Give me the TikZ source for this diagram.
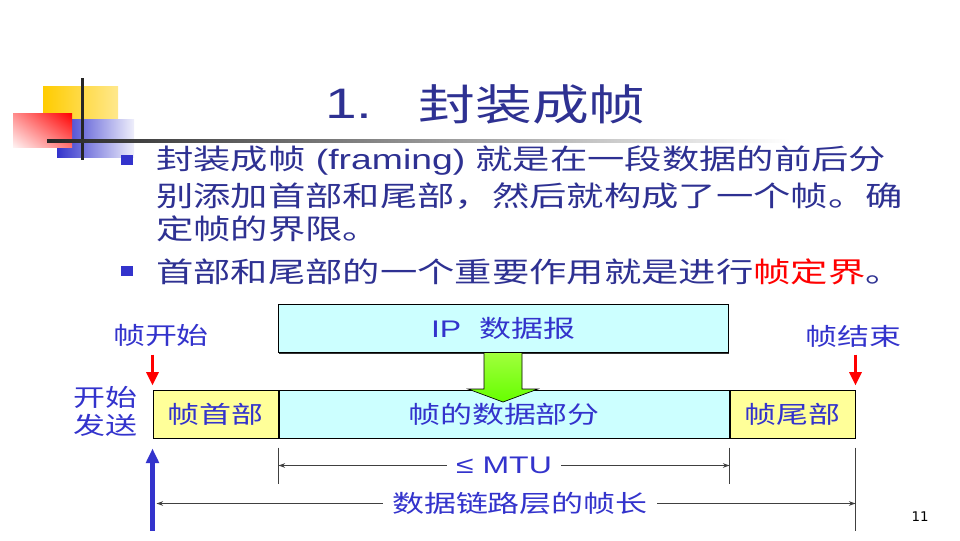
\documentclass[tikz,border=0pt]{standalone}
\usepackage{fontspec}
\setmainfont{Noto Sans CJK SC}[FakeStretch=1.333]
\newfontfamily\latin{Liberation Sans}[FakeStretch=1.333]
\newfontfamily\pagefont{DejaVu Sans}
\usetikzlibrary{positioning,calc,shadows,shadings,arrows.meta}

\definecolor{navy}{RGB}{46,49,146}
\definecolor{lblue}{RGB}{51,51,204}
\definecolor{hdryellow}{RGB}{255,255,153}
\definecolor{datacyan}{RGB}{204,255,255}
\definecolor{logoyellow}{RGB}{255,204,0}

\tikzset{
  field/.style={draw=black, line width=0.75pt, minimum height=36pt, inner sep=0pt,
    text=lblue, font=\fontsize{18}{21}\selectfont,
    drop shadow={shadow xshift=1.1pt, shadow yshift=-1.1pt, fill=black!80, opacity=1}},
  hdr/.style={field, fill=hdryellow, minimum width=93.75pt},
  data/.style={field, fill=datacyan, minimum width=337.5pt},
  lbl/.style={text=lblue, font=\fontsize{18}{21}\selectfont, inner sep=0pt},
  body/.style={text=navy, font=\fontsize{21}{26}\selectfont, inner sep=0pt, anchor=west},
  ttl/.style={text=navy, font=\fontsize{32}{38}\selectfont, inner sep=0pt, anchor=west},
  bullet/.style={fill=lblue, minimum width=9pt, minimum height=7.5pt, inner sep=0pt},
  dimtick/.style={draw=black!75, line width=0.75pt},
  dimarrow/.style={draw=black!75, line width=0.6pt,
    {Stealth[length=5pt,width=3.5pt]}-{Stealth[length=5pt,width=3.5pt]}},
  dimlabel/.style={lbl, fill=white, inner xsep=7pt, inner ysep=1pt},
  redarrow/.style={draw=red, line width=2.25pt, -{Triangle[length=10pt,width=9pt]}},
  sendarrow/.style={draw=lblue, line width=3.4pt, -{Triangle[length=11pt,width=9.5pt]}}
}

\begin{document}
\begin{tikzpicture}[x=0.75pt, y=-0.75pt]
\useasboundingbox (0,0) rectangle (960,540);

% corner logo and title rule
\shade[left color=logoyellow, right color=logoyellow!45] (43,86) rectangle (118,122);
\shade[left color=lblue, right color=lblue!8] (57,119) rectangle (134,157);
\shade[upper right=red, upper left=red!45, lower right=red!55, lower left=red!5] (13,113) rectangle (72,147);
\draw[line width=2.25pt, black!85] (82,78) -- (82,160);
\shade[left color=black!85, middle color=black!55, right color=white] (47,139.5) rectangle (790,142.5);

\node[ttl] (ttlnum) at (325,104) {\latin 1.};
\node[ttl] (ttl) at (418,104) {封装成帧};

% bullets
\node[bullet] (b1) at (127,160) {};
\node[body] (l1) at (156,161) {封装成帧{\latin\ (framing)\ }就是在一段数据的前后分};
\node[body] (l2) at (156,196) {别添加首部和尾部，然后就构成了一个帧。确};
\node[body] (l3) at (156,229) {定帧的界限。};
\node[bullet] (b2) at (127,271) {};
\node[body] (l4) at (156,272) {首部和尾部的一个重要作用就是进行{\color{red}帧定界}。};

% frame
\node[hdr] (hdr) at (215.5,414) {帧首部};
\node[data, right=0pt of hdr] (data) {帧的数据部分};
\node[hdr, right=0pt of data] (tail) {帧尾部};
\node[data] (ip) at (503,328.5) {{\latin IP\ \ }数据报};

\shadedraw[top color={rgb,255:red,160;green,255;blue,60}, bottom color={rgb,255:red,102;green,255;blue,0}, draw=black, line width=0.5pt]
  ($(ip.south)+(-19,0)$) -- ++(0,36) -- ++(-16,0) -- ($(ip.south)+(0,49)$)
  -- ($(ip.south)+(35,36)$) -- ++(-16,0) -- ($(ip.south)+(19,0)$);

\node[lbl] (sof) at (161,335) {帧开始};
\node[lbl] (eof) at (853,336) {帧结束};
\draw[redarrow] ($(hdr.north west)+(0,-35)$) -- ($(hdr.north west)+(0,-4)$);
\draw[redarrow] ($(tail.north east)+(0,-35)$) -- ($(tail.north east)+(0,-4)$);

\node[lbl, align=center] (send) at (105,411) {开始\\发送};
\draw[sendarrow] ($(hdr.south west)+(0,92)$) -- ($(hdr.south west)+(0,10)$);

% lengths
\draw[dimtick] ($(data.south west)+(0,9)$) -- ++(0,36);
\draw[dimtick] ($(data.south east)+(0,9)$) -- ++(0,36);
\draw[dimtick] ($(tail.south east)+(0,9)$) -- ++(0,83);

\coordinate (mtuL) at ($(data.south west)+(0,27)$);
\coordinate (mtuR) at ($(data.south east)+(0,27)$);
\draw[dimarrow] (mtuL) -- (mtuR) node[dimlabel, midway] (mtu) {\latin ≤ MTU};

\coordinate (lenL) at ($(hdr.south west)+(4,65)$);
\coordinate (lenR) at ($(tail.south east)+(0,65)$);
\draw[dimarrow] (lenL) -- (lenR) node[dimlabel, pos=0.52] (len) {数据链路层的帧长};

\node[inner sep=0pt, font=\pagefont\fontsize{10}{12}\selectfont] (pg) at (920,517) {11};
\end{tikzpicture}
\end{document}
